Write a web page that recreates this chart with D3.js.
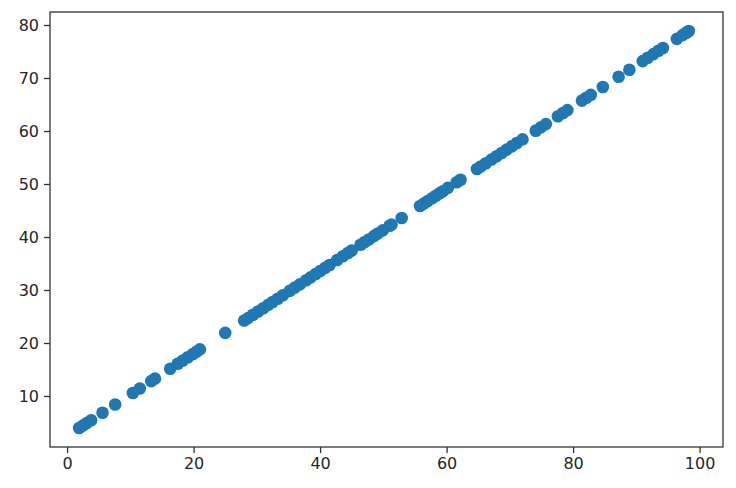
<!DOCTYPE html>
<html>
<head>
<meta charset="utf-8">
<script src="https://cdn.jsdelivr.net/npm/d3@7"></script>
<style>
  html, body { margin: 0; padding: 0; background: #fff; }
  svg { display: block; }
  .tick text { font-family: "DejaVu Sans", sans-serif; font-size: 16px; fill: #262626; }
</style>
</head>
<body>
<svg id="chart" width="736" height="488"></svg>
<script>
const xValues = [1.9, 2.5, 3.1, 3.8, 5.6, 7.6, 10.4, 11.5, 13.3, 13.9, 16.3, 17.5, 18.3, 19.1, 19.9, 20.5, 21.0, 25.0, 28.0, 28.6, 29.4, 30.2, 31.0, 31.8, 32.5, 33.3, 34.1, 35.2, 36.0, 36.8, 37.8, 38.5, 39.3, 40.0, 40.8, 41.5, 42.7, 43.6, 44.4, 45.0, 46.4, 47.0, 47.7, 48.5, 49.1, 49.9, 51.0, 51.3, 52.9, 55.8, 56.4, 57.0, 57.7, 58.3, 58.9, 59.4, 60.2, 61.6, 62.2, 64.8, 65.4, 66.2, 67.1, 67.9, 68.7, 69.5, 70.3, 71.1, 72.0, 74.1, 74.9, 75.7, 77.6, 78.4, 79.1, 81.4, 82.1, 82.8, 84.7, 87.2, 88.9, 91.0, 91.8, 92.7, 93.5, 94.2, 96.4, 97.3, 97.9, 98.3];
const yValues = [3.96, 4.42, 4.89, 5.43, 6.83, 8.39, 10.56, 11.42, 12.81, 13.28, 15.15, 16.08, 16.70, 17.32, 17.94, 18.41, 18.80, 21.91, 24.24, 24.70, 25.32, 25.95, 26.57, 27.19, 27.73, 28.35, 28.98, 29.83, 30.45, 31.07, 31.85, 32.39, 33.02, 33.56, 34.18, 34.73, 35.66, 36.36, 36.98, 37.45, 38.53, 39.00, 39.54, 40.16, 40.63, 41.25, 42.11, 42.34, 43.58, 45.84, 46.30, 46.77, 47.31, 47.78, 48.25, 48.63, 49.26, 50.34, 50.81, 52.83, 53.30, 53.92, 54.62, 55.24, 55.86, 56.48, 57.10, 57.72, 58.42, 60.06, 60.68, 61.30, 62.78, 63.40, 63.94, 65.73, 66.27, 66.82, 68.29, 70.23, 71.56, 73.19, 73.81, 74.51, 75.13, 75.67, 77.38, 78.08, 78.55, 78.86];
const xTicks = [0, 20, 40, 60, 80, 100];
const yTicks = [10, 20, 30, 40, 50, 60, 70, 80];

const points = xValues.map((x, i) => ({ x, y: yValues[i] }));

const margin = { left: 50, right: 13, top: 12, bottom: 41 };
const W = 736, H = 488;
const svg = d3.select("#chart");

const x = d3.scaleLinear().domain([-2.7, 103.7]).range([margin.left, W - margin.right]);
const y = d3.scaleLinear().domain([0.38, 82.45]).range([H - margin.bottom, margin.top]);

svg.append("g")
  .selectAll("circle")
  .data(points)
  .join("circle")
  .attr("cx", d => x(d.x))
  .attr("cy", d => y(d.y))
  .attr("r", 6.3)
  .attr("fill", "#1f77b4");

const xAxis = svg.append("g")
  .attr("transform", `translate(0,${H - margin.bottom})`)
  .call(d3.axisBottom(x).tickValues(xTicks).tickSize(6).tickPadding(5).tickFormat(d3.format("d")));
const yAxis = svg.append("g")
  .attr("transform", `translate(${margin.left},0)`)
  .call(d3.axisLeft(y).tickValues(yTicks).tickSize(6).tickPadding(5).tickFormat(d3.format("d")));

[xAxis, yAxis].forEach(g => {
  g.select(".domain").remove();
  g.selectAll(".tick line").attr("stroke", "#333").attr("stroke-width", 1.3);
});

svg.append("rect")
  .attr("x", margin.left)
  .attr("y", margin.top)
  .attr("width", W - margin.left - margin.right)
  .attr("height", H - margin.top - margin.bottom)
  .attr("fill", "none")
  .attr("stroke", "#333")
  .attr("stroke-width", 1.3);
</script>
</body>
</html>
